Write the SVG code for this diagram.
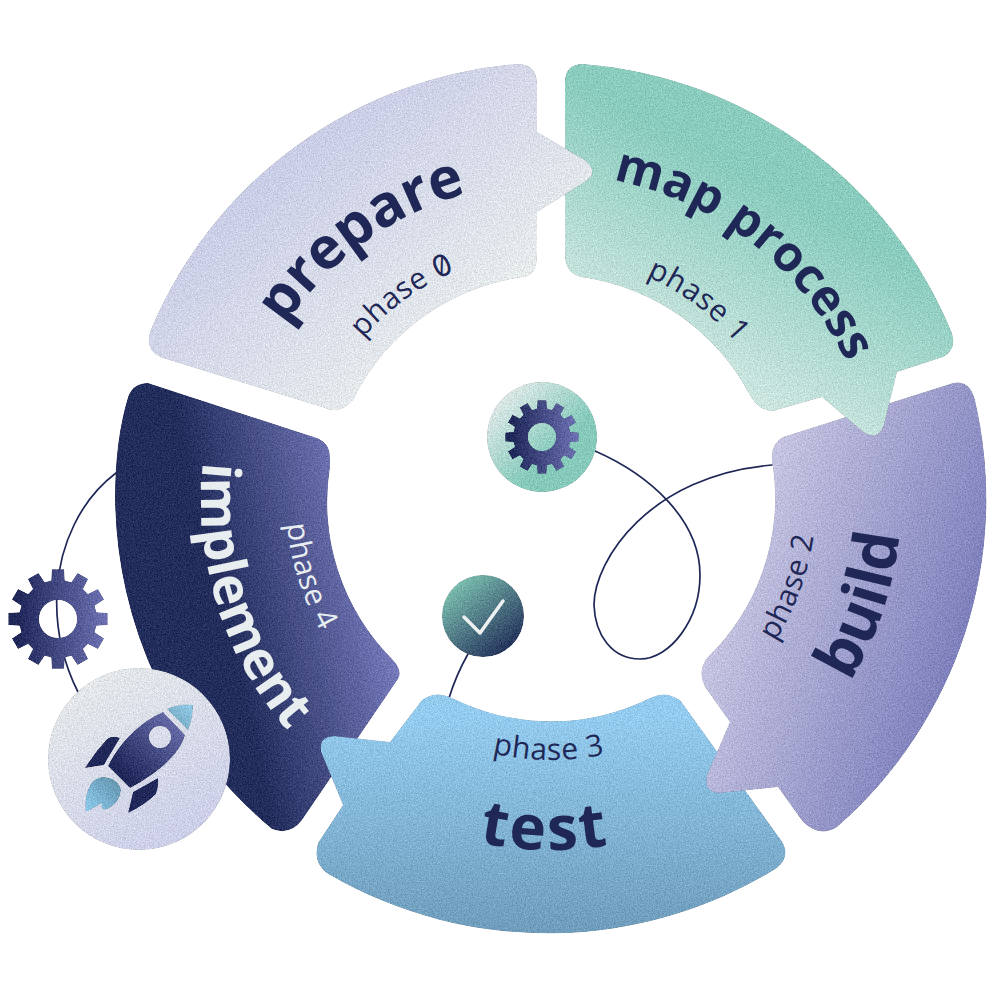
<svg xmlns="http://www.w3.org/2000/svg" xmlns:xlink="http://www.w3.org/1999/xlink" width="1000" height="1000" viewBox="0 0 1000 1000">
<style>
.title{font-family:"Open Sans","Noto Sans",sans-serif;font-weight:700;fill:#1e2756;text-anchor:middle}
.phase{font-family:"Open Sans","Noto Sans",sans-serif;font-weight:400;fill:#1e2756;font-size:30px;letter-spacing:0.6px;text-anchor:middle}
.light{fill:#e8edf0}
.conn{fill:none;stroke:#1e2756;stroke-width:1.7;stroke-linecap:round}
</style>
<defs>
<filter id="grain" x="-2%" y="-2%" width="104%" height="104%" color-interpolation-filters="sRGB">
<feTurbulence type="fractalNoise" baseFrequency="0.75" numOctaves="2" seed="4" result="n"/>
<feColorMatrix in="n" type="matrix" values="1 0 0 0 0 1 0 0 0 0 1 0 0 0 0 0 0 0 0 1" result="g"/>
<feComposite in="SourceGraphic" in2="g" operator="arithmetic" k1="0" k2="1" k3="0.3" k4="-0.15" result="m"/>
<feComposite in="m" in2="SourceAlpha" operator="in"/>
</filter>
<linearGradient id="gPrep" x1="0.1" y1="0.2" x2="0.85" y2="0.9"><stop offset="0.15" stop-color="#c8cbe6"/><stop offset="0.85" stop-color="#e9eeed"/></linearGradient>
<linearGradient id="gMap" x1="0.75" y1="0.2" x2="0.3" y2="1"><stop offset="0.25" stop-color="#8accbe"/><stop offset="0.95" stop-color="#deece9"/></linearGradient>
<linearGradient id="gBuild" x1="0.1" y1="0.25" x2="0.95" y2="0.7"><stop offset="0.1" stop-color="#c5c4e1"/><stop offset="1" stop-color="#7779b8"/></linearGradient>
<linearGradient id="gTest" x1="0.5" y1="0.1" x2="0.5" y2="1"><stop offset="0" stop-color="#93cbee"/><stop offset="1" stop-color="#6f9cbb"/></linearGradient>
<linearGradient id="gImpl" x1="0.25" y1="0.55" x2="0.88" y2="0.32"><stop offset="0.2" stop-color="#222d5c"/><stop offset="1" stop-color="#7579ba"/></linearGradient>
<linearGradient id="gGear" x1="0" y1="0.5" x2="1" y2="0.5"><stop offset="0.1" stop-color="#20285a"/><stop offset="1" stop-color="#6e72b4"/></linearGradient>
<linearGradient id="gRoc" x1="0.2" y1="0.1" x2="0.7" y2="1"><stop offset="0" stop-color="#e4e8ea"/><stop offset="1" stop-color="#cbcee8"/></linearGradient>
<linearGradient id="gCog" x1="0.1" y1="0.1" x2="0.75" y2="0.75"><stop offset="0" stop-color="#e4eaea"/><stop offset="0.8" stop-color="#85cabb"/></linearGradient>
<linearGradient id="gChk" x1="0.15" y1="0.1" x2="0.85" y2="0.95"><stop offset="0.05" stop-color="#78baac"/><stop offset="1" stop-color="#1f2a56"/></linearGradient>
<linearGradient id="gBody" x1="0" y1="1" x2="1" y2="0"><stop offset="0.2" stop-color="#20285a"/><stop offset="1" stop-color="#7478b8"/></linearGradient>
<linearGradient id="gNose" x1="0" y1="1" x2="1" y2="0"><stop offset="0" stop-color="#6d9db6"/><stop offset="1" stop-color="#93cdea"/></linearGradient>
<linearGradient id="gFlame" x1="1" y1="0" x2="0" y2="1"><stop offset="0" stop-color="#5f8ea6"/><stop offset="1" stop-color="#8fcdf0"/></linearGradient>
<path id="gearShape" fill-rule="evenodd" d="M76.8,-13.5L99.3,-12.2L99.3,12.2L76.8,13.5L73.3,26.7L92.1,39.1L79.9,60.2L59.8,50.1L50.1,59.8L60.2,79.9L39.1,92.1L26.7,73.3L13.5,76.8L12.2,99.3L-12.2,99.3L-13.5,76.8L-26.7,73.3L-39.1,92.1L-60.2,79.9L-50.1,59.8L-59.8,50.1L-79.9,60.2L-92.1,39.1L-73.3,26.7L-76.8,13.5L-99.3,12.2L-99.3,-12.2L-76.8,-13.5L-73.3,-26.7L-92.1,-39.1L-79.9,-60.2L-59.8,-50.1L-50.1,-59.8L-60.2,-79.9L-39.1,-92.1L-26.7,-73.3L-13.5,-76.8L-12.2,-99.3L12.2,-99.3L13.5,-76.8L26.7,-73.3L39.1,-92.1L60.2,-79.9L50.1,-59.8L59.8,-50.1L79.9,-60.2L92.1,-39.1L73.3,-26.7ZM38,0A38,38 0 1 0 -38,0A38,38 0 1 0 38,0Z"/>
<path id="t318" d="M233,500A318,318 0 0 1 869,500"/>
<path id="t248" d="M303,500A248,248 0 0 1 799,500"/>
<path id="t326" d="M225,500A326,326 0 0 1 877,500"/>
<path id="t243" d="M308,500A243,243 0 0 1 794,500"/>
<path id="b350" d="M201,500A350,350 0 0 0 901,500"/>
<path id="b265" d="M286,500A265,265 0 0 0 816,500"/>
<path id="b260" d="M291,500A260,260 0 0 0 811,500"/>
</defs>
<rect width="1000" height="1000" fill="#ffffff"/>
<g id="connectors">
<path class="conn" d="M595,451C650,475 700,520 700,575C700,620 670,659 640,659C612,659 595,635 594,605C594,560 650,475 772,465"/>
<path class="conn" d="M468,654C460,668 454,682 449,698"/>
<path class="conn" d="M116,473C80,500 60,545 57,590C55,625 62,660 78,692"/>
</g>
<g id="implement">
<path filter="url(#grain)" fill="url(#gImpl)" d="M148,383L317,438Q330,443 330,458L330,467A223,223 0 0 0 393,660Q403,671 398,679L302,820Q290,836 272,829A435,435 0 0 1 115,497Q115,440 128,397Q133,383 148,383Z"/>
<text class="title light" font-size="53" transform="rotate(72.5 551 500)"><textPath href="#b350" startOffset="50%">implement</textPath></text>
<text class="phase light" transform="rotate(72.5 551 500)"><textPath href="#b265" startOffset="50%">phase 4</textPath></text>
</g>
<g id="test">
<path filter="url(#grain)" fill="url(#gTest)" d="M422,700Q435,690 452,698A222,222 0 0 0 650,698Q665,690 680,700L783,843Q790,857 777,868A435,435 0 0 1 330,875Q312,864 318,843L343,805L321,752Q318,736 335,736L390,742Z"/>
<text class="title" font-size="62" letter-spacing="3" transform="rotate(1 551 500)"><textPath href="#b350" startOffset="50%">test</textPath></text>
<text class="phase" transform="rotate(0.5 551 500)"><textPath href="#b260" startOffset="50%">phase 3</textPath></text>
</g>
<g id="build">
<path filter="url(#grain)" fill="url(#gBuild)" d="M783,437L953,383Q970,380 975,400A435,435 0 0 1 837,827Q820,838 803,822L778,787L720,793Q703,792 707,775L730,722L705,687Q697,672 707,658A223,223 0 0 0 773,467Q768,445 783,437Z"/>
<text class="title" font-size="62" transform="rotate(-71.5 551 500)"><textPath href="#b350" startOffset="50%">build</textPath></text>
<text class="phase" transform="rotate(-70 551 500)"><textPath href="#b265" startOffset="50%">phase 2</textPath></text>
</g>
<g id="map-process">
<path filter="url(#grain)" fill="url(#gMap)" d="M583,64A435,435 0 0 1 952,333Q957,350 943,357L897,372L884,425Q878,442 863,432L822,397L773,411Q758,412 747,390A225,225 0 0 0 587,278Q565,276 565,255L565,82Q565,64 583,64Z"/>
<text class="title" font-size="49" transform="rotate(38 551 500)"><textPath href="#t326" startOffset="50%">map process</textPath></text>
<text class="phase" transform="rotate(36.5 551 500)"><textPath href="#t243" startOffset="50%">phase 1</textPath></text>
</g>
<g id="prepare">
<path filter="url(#grain)" fill="url(#gPrep)" d="M517,64Q537,64 537,84L537,132L585,160Q600,172 585,182L537,212L537,255Q537,275 523,277A223,223 0 0 0 353,400Q340,415 325,408L163,358Q142,350 152,327A435,435 0 0 1 517,64Z"/>
<text class="title" font-size="58" transform="rotate(-36 551 500)"><textPath href="#t318" startOffset="50%">prepare</textPath></text>
<text class="phase" transform="rotate(-36 551 500)"><textPath href="#t248" startOffset="50%">phase <tspan style="font-family:Inter,sans-serif;font-feature-settings:'zero' 1">0</tspan></textPath></text>
</g>
<g id="gear-left" filter="url(#grain)">
<use href="#gearShape" fill="url(#gGear)" transform="translate(58 619) scale(0.5)"/>
</g>
<g id="rocket">
<circle cx="139" cy="759" r="91" fill="url(#gRoc)" filter="url(#grain)"/>
<g filter="url(#grain)">
<path fill="url(#gBody)" fill-rule="evenodd" d="M163,712L185,735C180,755 155,775 130,788L108,766C120,742 140,722 163,712ZM171,737A11,11 0 1 0 149,737A11,11 0 1 0 171,737Z"/>
<path fill="url(#gNose)" d="M167,709Q180,703 193,705Q193,718 188,730Z"/>
<path fill="#20285a" d="M85,768Q95,752 107,739Q112,735 120,738L108,758L104,765Z"/>
<path fill="#20285a" d="M128,813L133,792L158,778Q159,785 156,794Q145,805 128,813Z"/>
<path fill="url(#gFlame)" d="M86,812Q84,800 88,790Q92,778 103,777Q118,778 121,790Q120,803 107,809Q100,811 102,803Q95,807 86,812Z"/>
</g>
</g>
<g id="gear-center">
<circle cx="542" cy="437" r="55" fill="url(#gCog)" filter="url(#grain)"/>
<g filter="url(#grain)"><use href="#gearShape" fill="url(#gGear)" transform="translate(542 437) scale(0.37)"/></g>
</g>
<g id="check">
<circle cx="483" cy="616" r="41" fill="url(#gChk)" filter="url(#grain)"/>
<path d="M464,617L480,633L503,601" fill="none" stroke="#eef1f2" stroke-width="3.5" stroke-linecap="round" stroke-linejoin="round"/>
</g>
</svg>
